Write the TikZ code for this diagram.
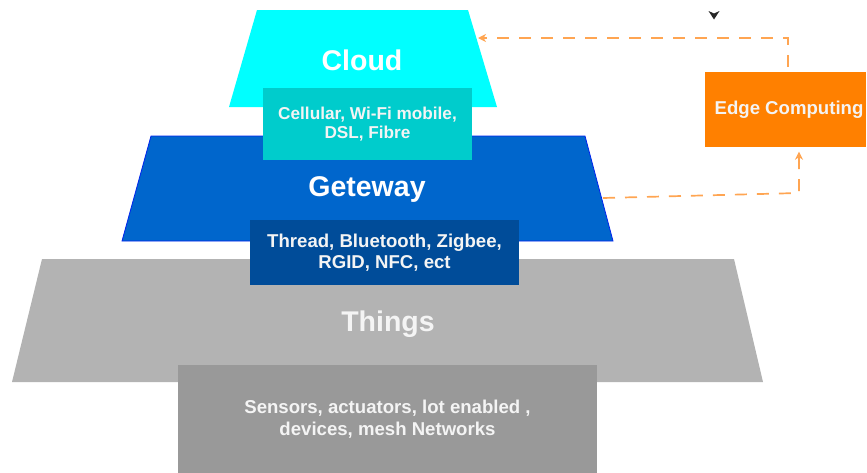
\documentclass[tikz,border=0pt]{standalone}
\usepackage{fontspec}
\setmainfont{Liberation Sans}
\usetikzlibrary{arrows.meta}

\definecolor{cloudfill}{HTML}{00FFFF}
\definecolor{cloudbox}{HTML}{00CCCC}
\definecolor{gwfill}{HTML}{0066CC}
\definecolor{gwline}{HTML}{0022EE}
\definecolor{gwbox}{HTML}{004C99}
\definecolor{thingsfill}{HTML}{B3B3B3}
\definecolor{thingsbox}{HTML}{999999}
\definecolor{edgefill}{HTML}{FF8000}
\definecolor{linkcol}{HTML}{FFA552}
\definecolor{softwhite}{HTML}{F4F4F4}

\tikzset{
  layertitle/.style={font=\bfseries\fontsize{28.5}{31}\selectfont, text=white, inner sep=0pt},
  panel/.style={draw=none, inner sep=0pt, align=center, text=softwhite,
                font=\bfseries\fontsize{18.6}{20.5}\selectfont},
  linkline/.style={draw=linkcol, line width=1.7pt, dash pattern=on 12pt off 10pt,
                   -{Stealth[length=8pt, width=8pt, inset=2.5pt, fill=linkcol]}},
}

\begin{document}
\begin{tikzpicture}[x=1pt, y=-1pt]
\useasboundingbox (0,0) rectangle (867,472);

% Things layer
\fill[thingsfill] (42,259) -- (734,259) -- (763,382) -- (12,382) -- cycle;
\node[layertitle, text=softwhite] (things) at (388,324) {Things};
\node[panel, fill=thingsbox, minimum width=419pt, minimum height=108pt,
      font=\bfseries\fontsize{18.6}{22.5}\selectfont] (sensors) at (387.5,419)
  {Sensors, actuators, lot enabled ,\\ devices, mesh Networks};

% Gateway layer
\filldraw[fill=gwfill, draw=gwline, line width=0.8pt] (151,136) -- (585,136) -- (613,241) -- (122,241) -- cycle;
\node[layertitle] (gateway) at (367,190) {Geteway};
\node[panel, fill=gwbox, minimum width=269pt, minimum height=65pt] (gwlinks) at (384.5,252.5)
  {Thread, Bluetooth, Zigbee,\\ RGID, NFC, ect};

% Cloud layer
\fill[cloudfill] (257,10) -- (468,10) -- (497,107) -- (229,107) -- cycle;
\node[layertitle] (cloud) at (362,60) {Cloud};
\node[panel, fill=cloudbox, minimum width=209pt, minimum height=72pt,
      font=\bfseries\fontsize{17.2}{19.5}\selectfont] (cloudlinks) at (367.5,124)
  {Cellular, Wi-Fi mobile,\\ DSL, Fibre};

% Edge computing
\node[panel, fill=edgefill, minimum width=161pt, minimum height=75pt, text=softwhite] (edge) at (785.5,109.5)
  {\hspace*{7pt}Edge Computing};

% Connector end points
\coordinate (gwout) at (603,198);
\coordinate (gwturn) at (799,193);
\coordinate (cloudin) at (478,38);

\draw[linkline, shorten >=4.5pt] (gwout) -- (gwturn) -- (gwturn |- edge.south);
\draw[linkline, shorten <=5pt] ([xshift=2.5pt]edge.north) |- (cloudin);

% small marker at the top
\fill[black!85] (708.5,11) -- (714,13.5) -- (719.5,11) -- (714,19.5) -- cycle;
\end{tikzpicture}
\end{document}
